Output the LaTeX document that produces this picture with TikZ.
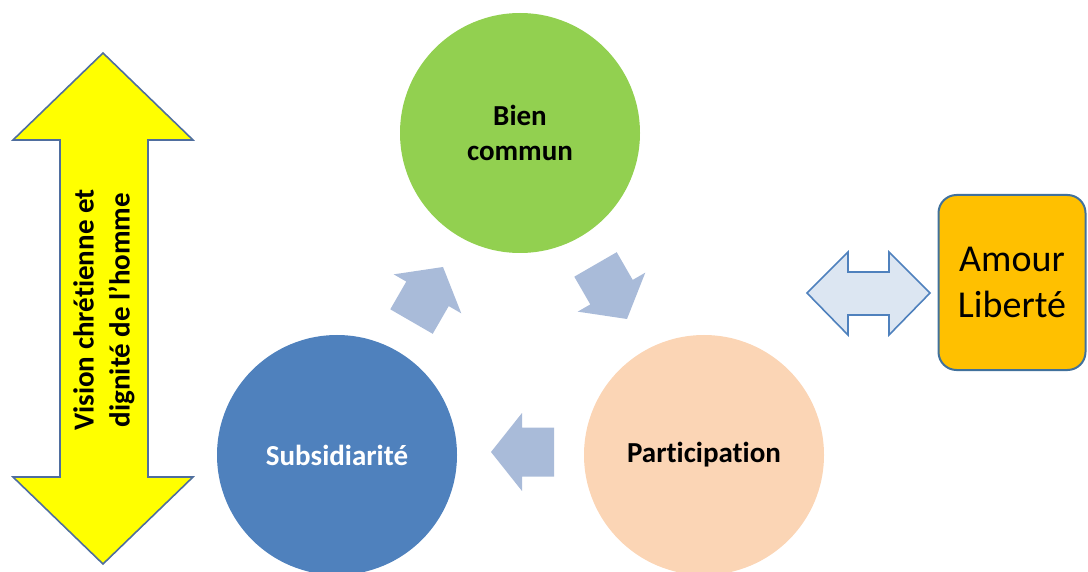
\documentclass[tikz,border=0pt]{standalone}
\usepackage{fontspec}
\setmainfont{Carlito}[Ligatures={ResetAll,NoCommon}]
\definecolor{cgreen}{HTML}{92D050}
\definecolor{cblue}{HTML}{4F81BD}
\definecolor{cpeach}{HTML}{FBD5B5}
\definecolor{carrow}{HTML}{A9BBD9}
\definecolor{cyellow}{HTML}{FFFF00}
\definecolor{cyborder}{HTML}{4F6E9E}
\definecolor{corange}{HTML}{FFC000}
\definecolor{coborder}{HTML}{41719C}
\definecolor{clight}{HTML}{DCE6F2}
\tikzset{
  circnode/.style={circle, minimum size=240pt, inner sep=0pt, align=center,
    font=\fontsize{29}{35.5}\selectfont\bfseries},
  cyclearrow/.style={fill=carrow, draw=none},
}
\begin{document}
\begin{tikzpicture}[x=1pt,y=-1pt]
\useasboundingbox (0,0) rectangle (1088,572);
\clip (0,0) rectangle (1088,572);
% circles
\node[circnode, fill=cgreen] (bien) at (520,133) {Bien\\commun};
\node[circnode, fill=cblue, text=white] (subs) at (337,455) {Subsidiarité};
\node[circnode, fill=cpeach] (part) at (704,455) {Participation};
% cycle arrows (tip at origin, pointing +x)
\foreach \px/\py/\ang in {443/267/60, 627/319/-60, 491/452/180}{
  \begin{scope}[shift={(\px,\py)}, rotate=\ang]
    \fill[cyclearrow] (0,0) -- (-31,39) -- (-31,24.5) -- (-63,24.5) -- (-63,-24.5)
      -- (-31,-24.5) -- (-31,-39) -- cycle;
  \end{scope}
}
% yellow double arrow
\draw[fill=cyellow, draw=cyborder, line width=1.6pt, line join=miter]
  (103,53) -- (193,140) -- (148,140) -- (148,477) -- (193,477) -- (103,564)
  -- (13,477) -- (60,477) -- (60,140) -- (13,140) -- cycle;
\node[rotate=90, align=center, font=\fontsize{29}{36}\selectfont\bfseries] (vision) at (104,310)
  {Vision chrétienne et\\dignité de l'homme};
% right double arrow
\draw[fill=clight, draw=cblue, line width=1.6pt]
  (807,293) -- (848,252) -- (848,272) -- (889,272) -- (889,252) -- (930,293)
  -- (889,335) -- (889,315) -- (848,315) -- (848,335) -- cycle;
% orange box
\node[draw=coborder, line width=2pt, fill=corange, rounded corners=18pt,
  minimum width=147pt, minimum height=175pt, inner sep=0pt, align=center,
  font=\fontsize{38}{46}\selectfont] (amour) at (1012,282.5) {Amour\\Liberté};
\end{tikzpicture}
\end{document}
